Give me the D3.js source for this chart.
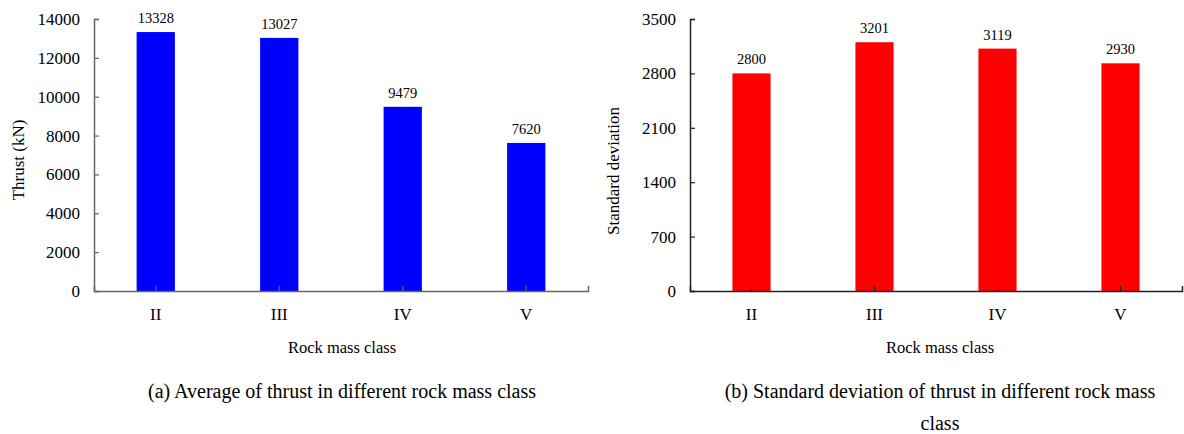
<!DOCTYPE html>
<html><head><meta charset="utf-8">
<script src="https://cdn.jsdelivr.net/npm/d3@7/dist/d3.min.js"></script>
<style>
html,body{margin:0;padding:0;background:#fff;}
svg text{font-family:"Liberation Serif","Times New Roman",serif !important;fill:#000;}
</style></head>
<body>
<svg id="chart" width="1184" height="434"></svg>
<script>
const categories = ["II", "III", "IV", "V"];
const thrustAvg = [13328, 13027, 9479, 7620];
const thrustStd = [2800, 3201, 3119, 2930];
const ticksA = [0, 2000, 4000, 6000, 8000, 10000, 12000, 14000];
const ticksB = [0, 700, 1400, 2100, 2800, 3500];

const svg = d3.select("#chart");
const SERIF = '"Liberation Serif","Times New Roman",serif';

function panel(opts) {
  const g = svg.append("g");
  const x = d3.scaleBand().domain(categories).range([opts.x0, opts.x1])
    .paddingInner(0.69).paddingOuter(0.345);
  const y = d3.scaleLinear().domain([0, opts.max]).range([291, 19]);

  g.selectAll("rect.bar").data(opts.values).enter().append("rect")
    .attr("class", "bar")
    .attr("x", (d, i) => x(categories[i]))
    .attr("width", x.bandwidth())
    .attr("y", d => y(d))
    .attr("height", d => y(0) - y(d))
    .attr("fill", opts.color);

  g.selectAll("text.val").data(opts.values).enter().append("text")
    .attr("class", "val")
    .attr("x", (d, i) => x(categories[i]) + x.bandwidth() / 2)
    .attr("y", d => y(d) - 9)
    .attr("text-anchor", "middle")
    .attr("font-size", 14.5)
    .text(d => d);

  const yAxis = g.append("g").attr("transform", `translate(${opts.x0},0)`)
    .call(d3.axisLeft(y).tickValues(opts.ticks).tickFormat(d3.format("d"))
      .tickSizeInner(-5).tickSizeOuter(-5).tickPadding(14));
  const xAxis = g.append("g").attr("transform", `translate(0,${y(0)})`)
    .call(d3.axisBottom(x).tickSizeInner(-5).tickSizeOuter(-5).tickPadding(17));

  [yAxis, xAxis].forEach(a => {
    a.attr("font-family", SERIF).attr("font-size", 17);
    a.selectAll("path.domain").attr("stroke", opts.axisColor).attr("stroke-width", 1.5);
    a.selectAll(".tick line").attr("stroke", opts.axisColor).attr("stroke-width", 1.2);
    a.selectAll(".tick text").attr("font-size", 17).attr("fill", "#000");
  });
  xAxis.selectAll(".tick text").attr("dy", "0.71em");

  g.append("text")
    .attr("transform", `translate(${opts.titleX},${opts.titleY}) rotate(-90)`)
    .attr("text-anchor", "middle")
    .attr("font-size", 17)
    .text(opts.yTitle);

  const cx = (opts.x0 + opts.x1) / 2 + opts.xTitleShift;
  g.append("text").attr("x", cx).attr("y", 353)
    .attr("text-anchor", "middle").attr("font-size", 16.5).text("Rock mass class");

  opts.caption.forEach((line, i) => {
    g.append("text").attr("x", cx).attr("y", 398 + i * 32)
      .attr("text-anchor", "middle").attr("font-size", 20).text(line);
  });
}

panel({
  x0: 94, x1: 588, max: 14000, values: thrustAvg, ticks: ticksA,
  color: "#0000ff", axisColor: "#666", yTitle: "Thrust (kN)",
  titleX: 24, titleY: 160, xTitleShift: 1,
  caption: ["(a) Average of thrust in different rock mass class"]
});
panel({
  x0: 690, x1: 1182, max: 3500, values: thrustStd, ticks: ticksB,
  color: "#ff0000", axisColor: "#222", yTitle: "Standard deviation",
  titleX: 619, titleY: 171, xTitleShift: 4,
  caption: ["(b) Standard deviation of thrust in different rock mass", "class"]
});
</script>
</body></html>
